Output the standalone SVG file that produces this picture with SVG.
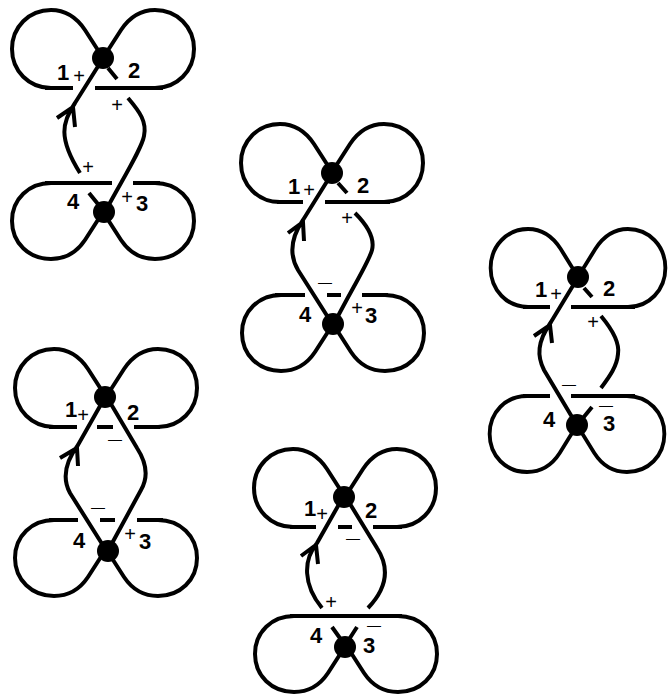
<svg xmlns="http://www.w3.org/2000/svg" xmlns:xlink="http://www.w3.org/1999/xlink" width="668" height="695" viewBox="0 0 668 695">
<style>
.s{fill:none;stroke:#000;stroke-width:4;stroke-linecap:butt;stroke-linejoin:miter}
.d{fill:#000}
.n{font:bold 22px "Liberation Sans",Arial,sans-serif;fill:#000}
.p{font:20px "Liberation Sans",Arial,sans-serif;fill:#000;text-anchor:middle}
.m{font:14px "Liberation Sans",Arial,sans-serif;fill:#000;text-anchor:middle}
</style>
<defs>
<path id="tl" class="s" d="M0,0L-18,-28C-26,-40 -38,-48 -52,-48C-74,-48 -91,-31 -91,-9C-91,13 -74,30 -52,30"/>
<path id="tr" class="s" d="M0,0L18,-28C26,-40 38,-48 52,-48C74,-48 91,-31 91,-9C91,13 74,30 52,30"/>
<path id="bl" class="s" d="M0,0L-18,28C-26,40 -38,47 -52,47C-74,47 -91,31 -91,9C-91,-13 -74,-29 -52,-29"/>
<path id="br" class="s" d="M0,0L18,28C26,40 38,47 52,47C74,47 91,31 91,9C91,-13 74,-29 52,-29"/>
</defs>
<rect width="668" height="695" fill="#fff"/>
<g id="panel-1">
<use xlink:href="#tl" href="#tl" x="103" y="58"/><use xlink:href="#tr" href="#tr" x="103" y="58"/>
<use xlink:href="#bl" href="#bl" x="103" y="212"/><use xlink:href="#br" href="#br" x="103" y="212"/>
<path class="s" d="M45,88H73M95,88H163M45,183H112M133,183H160"/>
<path class="s" d="M102,60L75,103C62,122 58,138 80,173M57,118L73,107L75,127M108,68L117,79M128,98C140,112 147,122 144,136C142,148 125,175 106,210M89,193L102,209"/>
<circle class="d" cx="103" cy="58" r="11"/><circle class="d" cx="104" cy="212" r="11"/>
<text class="n" x="57" y="80">1</text><text class="p" x="79" y="83">+</text><text class="n" x="128" y="78">2</text><text class="p" x="117" y="112">+</text><text class="p" x="88" y="174">+</text><text class="n" x="67" y="209">4</text><text class="p" x="127" y="204">+</text><text class="n" x="136" y="211">3</text>
</g>
<g id="panel-2">
<use xlink:href="#tl" href="#tl" x="332" y="172"/><use xlink:href="#tr" href="#tr" x="332" y="172"/>
<use xlink:href="#bl" href="#bl" x="333" y="324"/><use xlink:href="#br" href="#br" x="333" y="324"/>
<path class="s" d="M277,202H303M325,202H390M275,295H305M327,295H341M362,295H388"/>
<path class="s" d="M331,175L303,220C288,242 291,258 298,270L331,322M288,233L303,222L304,241M338,183L347,193M355,213C366,224 375,238 372,250C369,262 350,292 335,322"/>
<circle class="d" cx="332" cy="173" r="11"/><circle class="d" cx="333" cy="324" r="11"/>
<text class="n" x="288" y="194">1</text><text class="p" x="309" y="197">+</text><text class="n" x="357" y="193">2</text><text class="p" x="347" y="225">+</text><text class="m" x="325" y="287">—</text><text class="n" x="299" y="322">4</text><text class="p" x="357" y="315">+</text><text class="n" x="365" y="323">3</text>
</g>
<g id="panel-3">
<use xlink:href="#tl" href="#tl" transform="translate(578,277) scale(.96,1)"/><use xlink:href="#tr" href="#tr" transform="translate(578,277) scale(.96,1)"/>
<use xlink:href="#bl" href="#bl" transform="translate(577,425) scale(.96,1)"/><use xlink:href="#br" href="#br" transform="translate(577,425) scale(.96,1)"/>
<path class="s" d="M523,307H550M571,307H635M523,396H550M571,396H635"/>
<path class="s" d="M577,279L551,322C537,342 537,356 544,370L575,422M534,336L550,325L552,343M584,288L592,297M601,316C611,328 620,342 618,354C617,366 610,376 601,388M592,407L583,418"/>
<circle class="d" cx="578" cy="277" r="11"/><circle class="d" cx="577" cy="425" r="11"/>
<text class="n" x="535" y="297">1</text><text class="p" x="556" y="301">+</text><text class="n" x="603" y="296">2</text><text class="p" x="593" y="329">+</text><text class="m" x="569" y="389">—</text><text class="n" x="543" y="427">4</text><text class="m" x="606" y="410">—</text><text class="n" x="603" y="431">3</text>
</g>
<g id="panel-4">
<use xlink:href="#tl" href="#tl" x="106" y="397"/><use xlink:href="#tr" href="#tr" x="106" y="397"/>
<use xlink:href="#bl" href="#bl" x="106" y="549"/><use xlink:href="#br" href="#br" x="106" y="549"/>
<path class="s" d="M49,427H77M97,427H113M134,427H160M49,520H78M100,520H115M137,520H163"/>
<path class="s" d="M104,399L78,445C63,465 63,480 70,493L104,547M108,399L137,448C148,465 148,478 141,490L110,547M60,458L77,448L78,466"/>
<circle class="d" cx="105" cy="397" r="11"/><circle class="d" cx="108" cy="551" r="11"/>
<text class="n" x="65" y="417">1</text><text class="p" x="83" y="422">+</text><text class="n" x="127" y="420">2</text><text class="m" x="115" y="444">—</text><text class="m" x="98" y="512">—</text><text class="n" x="73" y="548">4</text><text class="p" x="130" y="541">+</text><text class="n" x="139" y="549">3</text>
</g>
<g id="panel-5">
<use xlink:href="#tl" href="#tl" x="345" y="497"/><use xlink:href="#tr" href="#tr" x="345" y="497"/>
<use xlink:href="#bl" href="#bl" x="346" y="645"/><use xlink:href="#br" href="#br" x="346" y="645"/>
<path class="s" d="M290,527H316M338,527H352M373,527H402M290,616H402"/>
<path class="s" d="M342,499L317,543C303,560 303,585 322,608M301,556L316,545L318,564M347,499L377,548C388,565 390,585 368,608M332,627L342,641M357,627L348,641"/>
<circle class="d" cx="344" cy="497" r="11"/><circle class="d" cx="345" cy="647" r="11"/>
<text class="n" x="304" y="516">1</text><text class="p" x="322" y="521">+</text><text class="n" x="365" y="518">2</text><text class="m" x="353" y="543">—</text><text class="p" x="331" y="609">+</text><text class="n" x="310" y="643">4</text><text class="m" x="374" y="630">—</text><text class="n" x="363" y="653">3</text>
</g>
</svg>
